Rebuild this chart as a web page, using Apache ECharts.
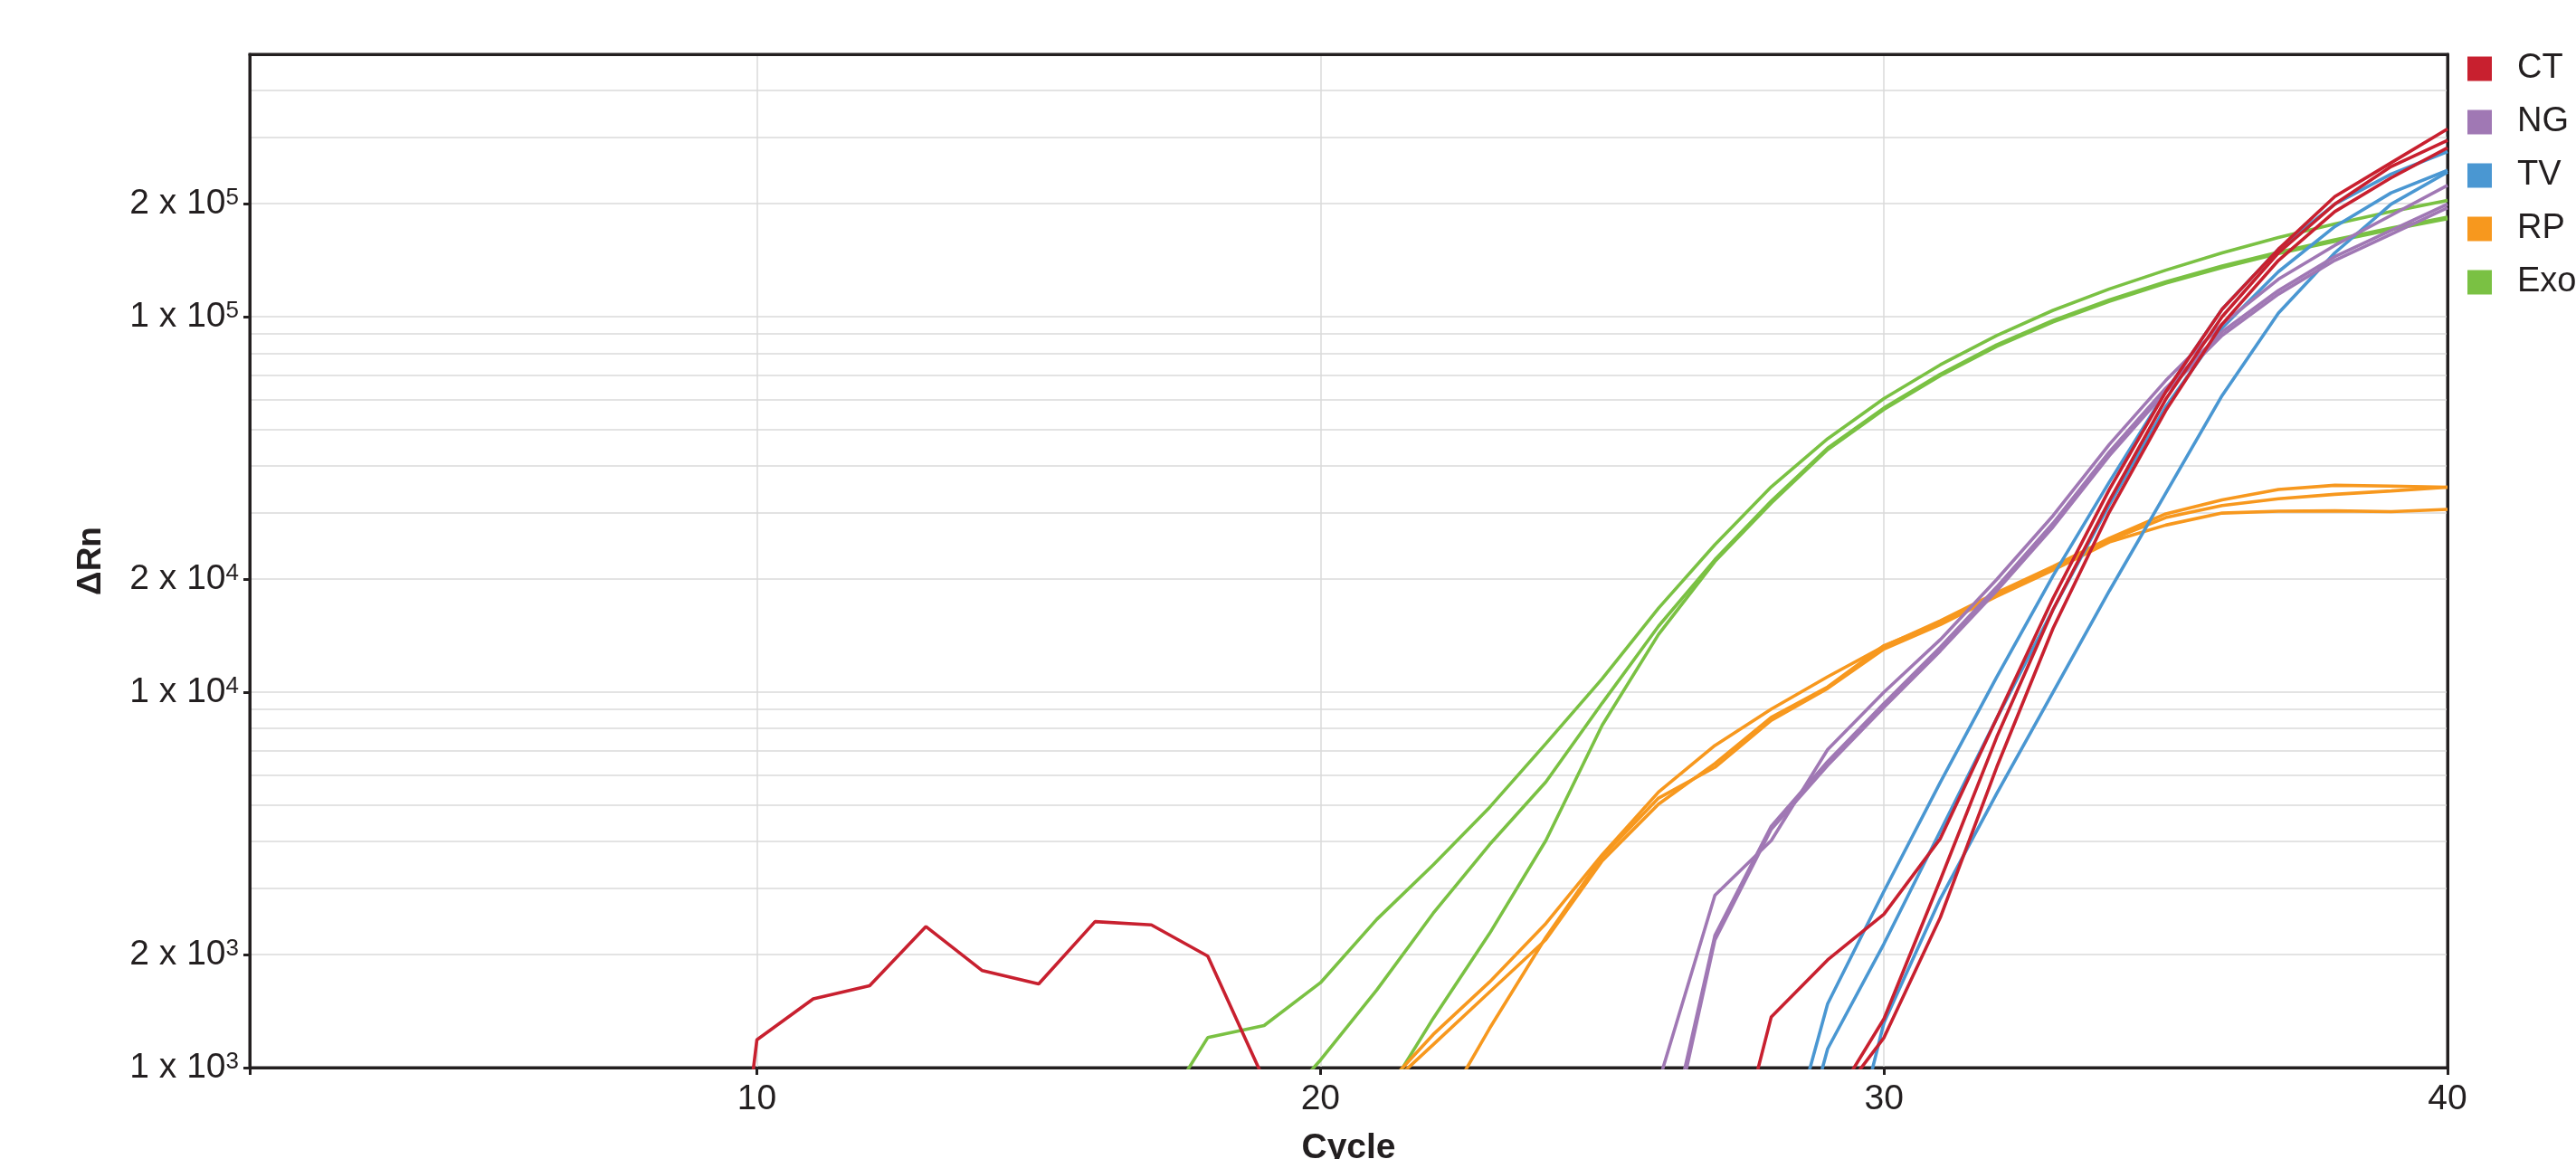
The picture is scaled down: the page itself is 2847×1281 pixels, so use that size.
<!DOCTYPE html>
<html>
<head>
<meta charset="utf-8">
<script src="https://cdn.jsdelivr.net/npm/echarts@6/dist/echarts.min.js"></script>
<style>
html,body{margin:0;padding:0;background:#ffffff;}
#chart{width:2847px;height:1281px;}
</style>
</head>
<body>
<div id="chart"></div>
<script>
// ---------- data ----------
const cycles = [1,2,3,4,5,6,7,8,9,10,11,12,13,14,15,16,17,18,19,20,21,22,23,24,25,26,27,28,29,30,31,32,33,34,35,36,37,38,39,40];

const xTickValues = [1, 10, 20, 30, 40];
const xLabelValues = [10, 20, 30, 40];
const yLabelValues = [1000, 2000, 10000, 20000, 100000, 200000];
const yGridValues = [1000,2000,3000,4000,5000,6000,7000,8000,9000,
  10000,20000,30000,40000,50000,60000,70000,80000,90000,
  100000,200000,300000,400000];

const legendNames = ['CT', 'NG', 'TV', 'RP', 'Exo'];
const legendColors = ['#c8202f', '#a078b4', '#4a97d2', '#f7981e', '#7ac143'];

// each array ends at cycle 40 (values below 1 x 10^3 sit under the axis)
const CT_1 = [69, 1186, 1525, 1652, 2375, 1812, 1670, 2448, 2399, 1982, 927,
  null, null, null, null, null, null, null,
  353, 1365, 1936, 2564, 4074, 8511, 17783, 34674, 63096, 104713, 151356, 208930, 257040, 316228];
const CT_2 = [767, 1349, 3162, 7586, 16596, 32359, 60256, 100000, 147911, 199526, 251189, 295121];
const CT_3 = [759, 1202, 2512, 6310, 14791, 30200, 56234, 95499, 141254, 190546, 234423, 281838];

const NG_1 = [912, 2877, 4027, 7031, 10000, 13804, 19953, 29512, 45709, 67608, 95499, 125893, 154882, 186209, 223872];
const NG_2 = [488, 2249, 4395, 6531, 9333, 13183, 19055, 28184, 43652, 64565, 91201, 117490, 144544, 169824, 199526];
const NG_3 = [457, 2188, 4315, 6383, 9120, 12882, 18621, 27542, 42658, 63096, 89125, 114815, 141254, 165959, 194984];

const TV_1 = [419, 1479, 2951, 5754, 10965, 20417, 36308, 63096, 104713, 151356, 199526, 239883, 275423];
const TV_2 = [312, 1122, 2138, 4266, 8511, 16596, 31623, 57544, 93325, 131826, 173780, 213796, 245471];
const TV_3 = [331, 1318, 2818, 5370, 10000, 18621, 33884, 61660, 102329, 147911, 199526, 242661];

const RP_1 = [841, 1225, 1690, 2421, 3690, 5420, 7211, 9016, 10990, 13243, 15488, 18408, 21627, 25704, 29854, 32509, 34674, 35563, 35400, 35156];
const RP_2 = [836, 1151, 1589, 2193, 3556, 5035, 6457, 8570, 10328, 13305, 15346, 18197, 21380, 25410, 29174, 31405, 32734, 33651, 34356, 35156];
const RP_3 = [698, 1271, 2223, 3648, 5224, 6310, 8414, 10233, 13032, 15136, 17989, 21135, 25119, 27861, 29992, 30339, 30409, 30269, 30690];

const EXO_1 = [690, 1202, 1294, 1683, 2483, 3467, 4932, 7295, 10864, 16749, 24717, 35237, 47315, 60534, 74473, 89125, 103992, 118577, 133045, 147911, 162555, 176604, 190546, 204174];
const EXO_2 = [713, 1047, 1611, 2576, 3926, 5768, 9354, 14997, 22542, 32285, 44668, 57148, 70307, 84140, 97724, 110917, 123880, 136458, 148594, 160325, 172187, 184077];
const EXO_3 = [773, 1352, 2275, 4027, 8166, 14256, 22284, 31915, 44259, 56624, 69663, 83368, 96828, 109901, 122744, 135207, 147231, 158855, 170608, 182389];

// ---------- build ----------
const FONT = '"Liberation Sans", Arial, Helvetica, sans-serif';
const INK = '#231f20';
const GRID = '#dadada';

function toPairs(values) {
  const offset = cycles.length - values.length;
  return values.map((v, i) => [cycles[offset + i], v == null ? '-' : v]);
}

const groups = [
  { name: 'Exo', color: legendColors[4], reps: [EXO_1, EXO_2, EXO_3] },
  { name: 'RP',  color: legendColors[3], reps: [RP_1, RP_2, RP_3] },
  { name: 'TV',  color: legendColors[2], reps: [TV_1, TV_2, TV_3] },
  { name: 'NG',  color: legendColors[1], reps: [NG_1, NG_2, NG_3] },
  { name: 'CT',  color: legendColors[0], reps: [CT_1, CT_2, CT_3] }
];

const series = [];
groups.forEach(g => {
  g.reps.forEach(rep => {
    series.push({
      name: g.name,
      type: 'line',
      data: toPairs(rep),
      xAxisIndex: 0,
      yAxisIndex: 0,
      showSymbol: false,
      symbol: 'none',
      clip: true,
      connectNulls: false,
      color: g.color,
      itemStyle: { color: g.color, borderWidth: 0 },
      lineStyle: { color: g.color, width: 3.6 },
      emphasis: { disabled: true },
      silent: true
    });
  });
});

function yLabel(v) {
  const e = Math.floor(Math.log10(v) + 1e-9);
  const m = Math.round(v / Math.pow(10, e));
  return '{main|' + m + ' x 10}{sup|' + e + '}';
}

const chart = echarts.init(document.getElementById('chart'), null, { renderer: 'canvas' });
chart.setOption({
  animation: false,
  backgroundColor: '#ffffff',
  textStyle: { fontFamily: FONT, color: INK },
  grid: {
    left: 276, right: 142, top: 60, bottom: 101,
    show: true, borderColor: INK, borderWidth: 3, backgroundColor: 'transparent',
    outerBoundsMode: 'none',
    containLabel: false
  },
  legend: {
    data: legendNames,
    orient: 'vertical',
    left: 2727,
    top: 57,
    padding: 0,
    itemWidth: 27,
    itemHeight: 27,
    itemGap: 21,
    icon: 'rect',
    selectedMode: false,
    itemStyle: { borderWidth: 0 },
    textStyle: { fontFamily: FONT, fontSize: 38, color: INK, lineHeight: 27, padding: [0, 0, 0, 23] }
  },
  xAxis: [
    {
      type: 'value',
      min: 1,
      max: 40,
      position: 'bottom',
      name: 'Cycle',
      nameLocation: 'middle',
      nameGap: 70,
      nameTextStyle: { fontFamily: FONT, fontSize: 39, fontWeight: 'bold', color: INK },
      axisLine: { show: true, onZero: false, lineStyle: { color: INK, width: 3 } },
      axisTick: { show: true, customValues: xTickValues, length: 8, lineStyle: { color: INK, width: 3 } },
      axisLabel: { show: true, customValues: xLabelValues, fontFamily: FONT, fontSize: 39, color: INK, margin: 16 },
      splitLine: { show: true, lineStyle: { color: GRID, width: 1.5 } }
    },
    {
      type: 'value',
      min: 1,
      max: 40,
      position: 'top',
      axisLine: { show: true, onZero: false, lineStyle: { color: INK, width: 3 } },
      axisTick: { show: false },
      axisLabel: { show: false },
      splitLine: { show: false }
    }
  ],
  yAxis: [
    {
      type: 'log',
      logBase: 10,
      min: 1000,
      max: 500000,
      position: 'left',
      name: 'ΔRn',
      nameLocation: 'middle',
      nameGap: 157,
      nameRotate: 90,
      nameTextStyle: { fontFamily: FONT, fontSize: 37, fontWeight: 'bold', color: INK },
      axisLine: { show: true, onZero: false, lineStyle: { color: INK, width: 3 } },
      axisTick: { show: false, customValues: yGridValues },
      axisLabel: { show: false },
      splitLine: { show: true, lineStyle: { color: GRID, width: 1.5 } }
    },
    {
      type: 'log',
      logBase: 10,
      min: 1000,
      max: 500000,
      position: 'left',
      axisLine: { show: false },
      axisTick: { show: true, customValues: yLabelValues, length: 7, lineStyle: { color: INK, width: 3 } },
      axisLabel: {
        show: true,
        customValues: yLabelValues,
        margin: 12,
        formatter: yLabel,
        rich: {
          main: { fontFamily: FONT, fontSize: 39, color: INK, lineHeight: 39 },
          sup: { fontFamily: FONT, fontSize: 26, color: INK, lineHeight: 26, verticalAlign: 'top' }
        }
      },
      splitLine: { show: false }
    },
    {
      type: 'log',
      logBase: 10,
      min: 1000,
      max: 500000,
      position: 'right',
      axisLine: { show: true, onZero: false, lineStyle: { color: INK, width: 3 } },
      axisTick: { show: false },
      axisLabel: { show: false },
      splitLine: { show: false }
    }
  ],
  series: series
});
</script>
</body>
</html>
